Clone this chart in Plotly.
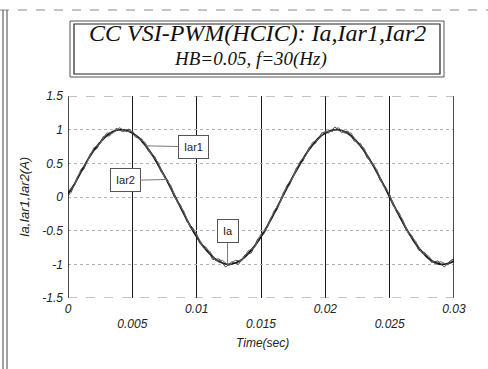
import plotly.graph_objects as go

# ---- data ----
t = [0.0, 0.0005, 0.001, 0.0015, 0.002, 0.0025, 0.003, 0.0035, 0.004, 0.0045,
     0.005, 0.0055, 0.006, 0.0065, 0.007, 0.0075, 0.008, 0.0085, 0.009, 0.0095,
     0.01, 0.0105, 0.011, 0.0115, 0.012, 0.0125, 0.013, 0.0135, 0.014, 0.0145,
     0.015, 0.0155, 0.016, 0.0165, 0.017, 0.0175, 0.018, 0.0185, 0.019, 0.0195,
     0.02, 0.0205, 0.021, 0.0215, 0.022, 0.0225, 0.023, 0.0235, 0.024, 0.0245,
     0.025, 0.0255, 0.026, 0.0265, 0.027, 0.0275, 0.028, 0.0285, 0.029, 0.0295, 0.03]

ia = [0.05, 0.19, 0.37, 0.54, 0.69, 0.81, 0.91, 0.97, 1.00, 0.99,
      0.95, 0.88, 0.77, 0.64, 0.48, 0.31, 0.13, -0.06, -0.25, -0.43,
      -0.59, -0.73, -0.84, -0.93, -0.98, -1.00, -0.98, -0.93, -0.84, -0.73,
      -0.59, -0.43, -0.25, -0.06, 0.13, 0.31, 0.48, 0.64, 0.77, 0.88,
      0.95, 0.99, 1.00, 0.97, 0.91, 0.81, 0.69, 0.54, 0.37, 0.19,
      0.00, -0.19, -0.37, -0.54, -0.69, -0.81, -0.91, -0.97, -1.00, -0.99, -0.95]

iar1 = [0.08, 0.17, 0.41, 0.52, 0.73, 0.79, 0.95, 0.95, 1.03, 0.97,
        0.98, 0.86, 0.81, 0.62, 0.52, 0.29, 0.17, -0.08, -0.21, -0.45,
        -0.55, -0.75, -0.80, -0.95, -0.94, -1.02, -0.94, -0.95, -0.80, -0.75,
        -0.55, -0.45, -0.21, -0.08, 0.17, 0.29, 0.52, 0.62, 0.81, 0.86,
        0.98, 0.97, 1.03, 0.95, 0.95, 0.79, 0.73, 0.52, 0.41, 0.17,
        0.04, -0.21, -0.33, -0.56, -0.65, -0.83, -0.87, -0.99, -0.96, -1.01, -0.91]

t2 = [0.0, 0.00025, 0.00075, 0.00125, 0.00175, 0.00225, 0.00275, 0.00325, 0.00375, 0.00425,
      0.00475, 0.00525, 0.00575, 0.00625, 0.00675, 0.00725, 0.00775, 0.00825, 0.00875, 0.00925,
      0.00975, 0.01025, 0.01075, 0.01125, 0.01175, 0.01225, 0.01275, 0.01325, 0.01375, 0.01425,
      0.01475, 0.01525, 0.01575, 0.01625, 0.01675, 0.01725, 0.01775, 0.01825, 0.01875, 0.01925,
      0.01975, 0.02025, 0.02075, 0.02125, 0.02175, 0.02225, 0.02275, 0.02325, 0.02375, 0.02425,
      0.02475, 0.02525, 0.02575, 0.02625, 0.02675, 0.02725, 0.02775, 0.02825, 0.02875, 0.02925,
      0.02975, 0.03]

iar2 = [0.02,
        0.07, 0.31, 0.42, 0.65, 0.72, 0.90, 0.91, 1.02, 0.97, 1.01,
        0.89, 0.86, 0.68, 0.60, 0.37, 0.25, 0.00, -0.12, -0.37, -0.47,
        -0.69, -0.75, -0.93, -0.92, -1.04, -0.96, -1.00, -0.86, -0.83, -0.62,
        -0.54, -0.31, -0.19, 0.07, 0.19, 0.43, 0.53, 0.74, 0.80, 0.96,
        0.95, 1.04, 0.96, 0.98, 0.83, 0.79, 0.58, 0.49, 0.25, 0.13,
        -0.12, -0.24, -0.48, -0.58, -0.79, -0.83, -0.97, -0.95, -1.04, -0.94,
        -0.92]

x_major = [0, 0.005, 0.01, 0.015, 0.02, 0.025, 0.03]
x_row1_text = ["0", "", "0.01", "", "0.02", "", "0.03"]
x_row2_vals = [0.005, 0.015, 0.025]
x_row2_text = ["0.005", "0.015", "0.025"]
y_ticks = [-1.5, -1, -0.5, 0, 0.5, 1, 1.5]
y_text = ["-1.5", "-1", "-0.5", "0", "0.5", "1", "1.5"]

title1 = "CC VSI-PWM(HCIC): Ia,Iar1,Iar2"
title2 = "HB=0.05, f=30(Hz)"

# ---- figure ----
W, H = 488, 369
L, R, T, B = 68, 34, 96, 71
pw, ph = W - L - R, H - T - B


def px(x):
    return (x - L) / pw


def py(y):
    return (H - B - y) / ph


SERIF = "Liberation Serif, Times New Roman, serif"
SANS = "Liberation Sans, Arial, sans-serif"
tick_font = dict(family=SANS, size=12, color="#222222", style="italic")

fig = go.Figure()
fig.add_trace(go.Scatter(x=t, y=ia, mode="lines", name="Ia",
                         line=dict(color="#111111", width=1.8, shape="spline")))
fig.add_trace(go.Scatter(x=t2, y=iar2, mode="lines", name="Iar2",
                         line=dict(color="#444444", width=1)))
fig.add_trace(go.Scatter(x=t, y=iar1, mode="lines", name="Iar1",
                         line=dict(color="#666666", width=1)))
# invisible trace on the second x axis so its ticks render
fig.add_trace(go.Scatter(x=[0, 0.03], y=[0, 0], xaxis="x2", mode="lines",
                         line=dict(width=0), hoverinfo="skip", showlegend=False))

fig.update_layout(
    width=W, height=H,
    margin=dict(l=L, r=R, t=T, b=B),
    paper_bgcolor="white", plot_bgcolor="white",
    showlegend=False,
    xaxis=dict(range=[0, 0.03], tickvals=x_major, ticktext=x_row1_text,
               showgrid=True, gridcolor="#1a1a1a", gridwidth=1.2,
               zeroline=False, showline=False, ticks="",
               tickfont=tick_font, ticklabelstandoff=2),
    xaxis2=dict(range=[0, 0.03], overlaying="x", anchor="y", side="bottom",
                tickvals=x_row2_vals, ticktext=x_row2_text,
                showgrid=False, zeroline=False, showline=False, ticks="",
                tickfont=tick_font, ticklabelstandoff=17),
    yaxis=dict(range=[-1.5, 1.5], tickvals=y_ticks, ticktext=y_text,
               showgrid=True, gridcolor="#b0b0b0", gridwidth=1, griddash="dot",
               zeroline=False, showline=False, ticks="",
               tickfont=tick_font, ticklabelstandoff=4),
)

shapes = []
# plot frame
shapes.append(dict(type="line", xref="x", yref="y", x0=0, x1=0, y0=-1.5, y1=1.5,
                   line=dict(color="#111111", width=1.5)))
shapes.append(dict(type="line", xref="x", yref="y", x0=0.03, x1=0.03, y0=-1.5, y1=1.5,
                   line=dict(color="#111111", width=1.5)))
shapes.append(dict(type="line", xref="x", yref="y", x0=0, x1=0.03, y0=1.5, y1=1.5,
                   line=dict(color="#888888", width=1, dash="dash")))
shapes.append(dict(type="line", xref="x", yref="y", x0=0, x1=0.03, y0=-1.5, y1=-1.5,
                   line=dict(color="#888888", width=1, dash="dash")))
# title box (double border)
shapes.append(dict(type="rect", xref="paper", yref="paper",
                   x0=px(70), x1=px(444), y0=py(77), y1=py(21),
                   line=dict(color="#555555", width=1)))
shapes.append(dict(type="rect", xref="paper", yref="paper",
                   x0=px(74), x1=px(440), y0=py(74), y1=py(24),
                   line=dict(color="#222222", width=1.2), fillcolor="white"))
# outer page frame
shapes.append(dict(type="line", xref="paper", yref="paper",
                   x0=px(0), x1=px(488), y0=py(10), y1=py(10),
                   line=dict(color="#888888", width=1, dash="dash")))
shapes.append(dict(type="line", xref="paper", yref="paper",
                   x0=px(3), x1=px(3), y0=py(10), y1=py(369),
                   line=dict(color="#444444", width=1)))
shapes.append(dict(type="line", xref="paper", yref="paper",
                   x0=px(7), x1=px(7), y0=py(10), y1=py(369),
                   line=dict(color="#444444", width=1)))
fig.update_layout(shapes=shapes)

ann = []
ann.append(dict(xref="paper", yref="paper", x=px(257), y=py(33), showarrow=False,
                text=title1, xanchor="center", yanchor="middle",
                font=dict(family=SERIF, size=24, color="#111111", style="italic")))
ann.append(dict(xref="paper", yref="paper", x=px(250), y=py(59), showarrow=False,
                text=title2, xanchor="center", yanchor="middle",
                font=dict(family=SERIF, size=19, color="#111111", style="italic")))
ann.append(dict(xref="paper", yref="paper", x=px(24), y=0.5, showarrow=False,
                text="Ia,Iar1,Iar2(A)", textangle=-90, xanchor="center", yanchor="middle",
                font=dict(family=SANS, size=13, color="#222222", style="italic")))
ann.append(dict(xref="paper", yref="paper", x=px(262), y=py(343), showarrow=False,
                text="Time(sec)", xanchor="center", yanchor="middle",
                font=dict(family=SANS, size=12, color="#222222", style="italic")))

box_font = dict(family=SANS, size=11, color="#222222")
ann.append(dict(x=0.00604, y=0.76, xref="x", yref="y", text="Iar1",
                showarrow=True, arrowhead=0, arrowwidth=1, arrowcolor="#777777",
                ax=48, ay=1, bgcolor="white", bordercolor="#555555", borderwidth=1,
                borderpad=5, font=box_font))
ann.append(dict(x=0.0077, y=0.26, xref="x", yref="y", text="Iar2",
                showarrow=True, arrowhead=0, arrowwidth=1, arrowcolor="#777777",
                ax=-42, ay=1, bgcolor="white", bordercolor="#555555", borderwidth=1,
                borderpad=5, font=box_font))
ann.append(dict(x=0.0124, y=-1.0, xref="x", yref="y", text="Ia",
                showarrow=True, arrowhead=0, arrowwidth=1, arrowcolor="#777777",
                ax=0, ay=-33, bgcolor="white", bordercolor="#555555", borderwidth=1,
                borderpad=5, font=box_font))
fig.update_layout(annotations=ann)

fig.write_html("out.html")
